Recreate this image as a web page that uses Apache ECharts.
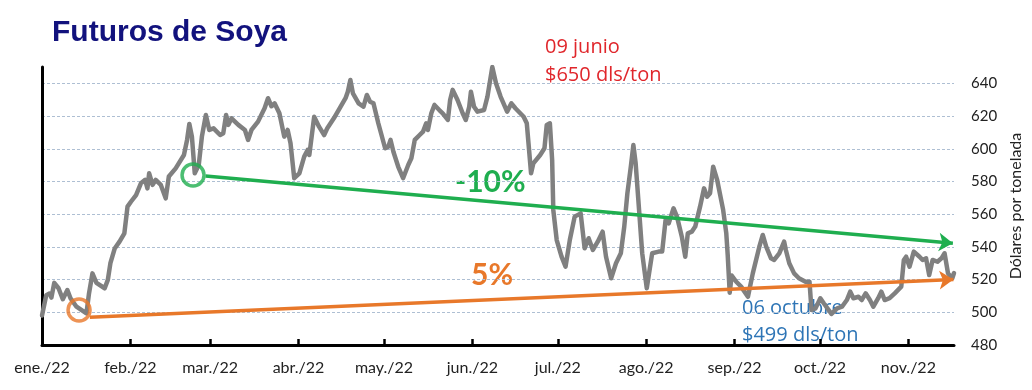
<!DOCTYPE html>
<html>
<head>
<meta charset="utf-8">
<script src="https://cdn.jsdelivr.net/npm/echarts@6/dist/echarts.min.js"></script>
<style>
html,body{margin:0;padding:0;background:#fff;}
#chart{width:1032px;height:390px;}
</style>
</head>
<body>
<div id="chart"></div>
<script>
// X axis: day of year 2022 (0 = 1 ene.)
var monthStarts = [0, 31, 59, 90, 120, 151, 181, 212, 243, 273, 304];
var monthLabels = ['ene./22','feb./22','mar./22','abr./22','may./22','jun./22','jul./22','ago./22','sep./22','oct./22','nov./22'];
var yTicks = [480, 500, 520, 540, 560, 580, 600, 620, 640];

// Soybean futures (USD/ton)
var days = [0,1.5,2.6,3.3,4.3,5.8,7.3,8.9,10,12.1,15.6,16.5,17.7,19.1,22,23.1,24,25.5,27.2,28.9,30,31.2,33,34.7,36.2,37,37.6,38.8,39.9,41.7,43.4,44.5,46.9,49.8,50.9,51.7,52.6,53.6,55,56.1,57.5,58.7,60.2,62.5,63.6,64.6,65.4,66.5,68.9,71.2,72.3,73.5,75.8,78.1,79.3,80.5,81.6,83.3,85,86.2,87.2,88.5,90.3,92,93.2,93.8,95.5,97.2,99,100.1,102.4,106.5,107.3,108.2,109.1,111.1,112.8,114,115.1,116.3,118,120.4,121.5,122.3,123.3,125,126.7,128.5,129.6,130.8,132.5,133.7,134.8,135.4,136.6,137.7,139.4,140.6,142.4,143.2,144.1,145.8,147.6,148.7,149.9,150.5,151.6,152.8,155.1,156.3,158,159.3,160.9,163.2,164.7,166.1,169,170.1,170.7,171.6,172.4,174.8,176.3,177.1,178.2,179,179.4,180.6,182.3,183.7,185.2,186.9,189,190.4,191.8,193.3,195,196.7,197.9,199.7,201.4,203.1,204.3,205.4,206.6,207.5,208.3,209.5,210.6,212.2,213,214.1,216.4,217.6,218.8,219.9,221.6,222.8,224.5,225.7,226.6,228,229.2,230.9,232.3,233.4,234.4,235.5,236.9,239,240.1,240.6,241.3,242,243.6,245.3,247.7,249.4,251.7,252.9,254.1,255.8,256.9,258.7,260.4,261,262.2,263.9,265.6,267.9,269.3,270,271.4,273.1,274.3,277,279,280.7,282.4,283.6,284.7,286.5,287.6,289,290.5,291.7,293.4,294.5,295.7,297.4,299.2,301.5,302.4,303.2,304.4,305.9,307.9,309,310.2,311.3,312.5,314.2,315.6,316.7,317.9,319.4,320];
var prices = [498,510.5,511.5,509,518,514.7,508,513.6,508.6,503.4,499.4,511.6,523.8,518,514.7,519.8,530,539,543.2,548.3,564.6,567.6,571.7,578.9,581,575.8,585,577.9,581,577.9,569.7,583,588,596.2,605.4,615.2,607.4,585,590,607.4,620.7,611.5,612.5,608.4,609.5,620.7,614.6,618.6,614.6,611.5,605.4,611.5,616.6,624.8,630.9,626,627.8,621.7,607.4,611.5,603.4,582,585,595.2,599.3,596.2,619.6,613.5,608.4,612.5,618.6,630.9,634.9,642.1,633.9,627.8,625.7,632.9,628.8,627.8,615.6,600.3,601.3,605.4,598.2,589,582,590.1,594.2,605.4,608.4,610.5,615.6,611.5,621.7,626.8,623.7,621.7,617.6,629.8,636,629.8,621.7,617.6,625.7,634.9,625.7,622.7,623.7,631.9,650,640,631.9,622.7,627.8,624.8,619.6,615.6,603.4,585,591.1,596.2,600.3,614.6,615.6,593.1,562.6,544.2,534,527.9,544.2,558.5,560.5,539.1,545.3,538.1,543.2,549.3,534,520.8,530,536.1,552.4,572.8,589,602.3,591.1,562.6,536.1,514.7,523.8,536.1,537.1,537.1,556.4,554.4,563.6,558.5,546.2,534,548.3,549.3,552.4,564.6,575.8,570.7,572.8,589,580.9,562.6,548.3,535,512,522.5,518.7,515.7,509.5,523.8,540.1,547.3,540.1,533,532,536.1,543.2,538.1,530,523.8,520.8,518.7,518.7,501.4,502.4,508.6,505.5,499,502.4,503.4,507.5,512.6,508.6,509.5,507.5,511.6,507.5,503.4,508.6,512.6,507.5,508.6,511.6,515.7,532,534,527.9,537.1,534,532,533,522.8,532,530.9,533,536.1,523.8,520.8,524];

// Trend lines and highlighted points [day, price]
var greenTrend = [[57.4, 583.3], [319.6, 542.2]];
var orangeTrend = [[16.8, 497.0], [319.8, 520.0]];
var greenCircle = [53, 584];
var orangeCircle = [13, 501.4];

var GRAY = '#808080', GREEN = '#1fae4f', ORANGE = '#e8782a', RED = '#e0262b', BLUE = '#2e75b6';
var FONT = 'Lato, "Open Sans", sans-serif';
var NOTE = '"Open Sans", Lato, sans-serif';

var chart = echarts.init(document.getElementById('chart'), null, {renderer: 'canvas'});
chart.setOption({
  animation: false,
  backgroundColor: '#fff',
  grid: {left: 42, right: 69, top: 67, bottom: 45},
  xAxis: {
    type: 'value', min: 0, max: 320,
    splitLine: {show: false},
    axisLine: {show: true, onZero: false, lineStyle: {color: '#000', width: 3}},
    axisTick: {show: true, inside: true, length: 6, customValues: monthStarts, lineStyle: {color: '#000', width: 2.5}},
    axisLabel: {
      customValues: monthStarts, margin: 15,
      fontFamily: FONT, fontSize: 16, color: '#222',
      formatter: function (v) { var i = monthStarts.indexOf(v); return i >= 0 ? monthLabels[i] : ''; }
    }
  },
  yAxis: {
    type: 'value', position: 'right', min: 480, max: 650, interval: 20,
    name: 'Dólares por tonelada', nameLocation: 'middle', nameRotate: 90, nameGap: 46,
    nameTextStyle: {fontFamily: FONT, fontSize: 16, color: '#222'},
    axisLine: {show: true, lineStyle: {color: '#000', width: 3}},
    axisTick: {show: false},
    splitLine: {show: true, showMaxLine: false, lineStyle: {color: '#aebfd3', type: [3, 2], width: 1}},
    axisLabel: {
      margin: 17, fontFamily: FONT, fontSize: 15, color: '#222', showMaxLabel: false,
      formatter: function (v) { return yTicks.indexOf(v) >= 0 ? String(v) : ''; }
    }
  },
  series: [
    {
      name: 'Soya', type: 'line', symbol: 'none', smooth: false, z: 2,
      lineStyle: {color: GRAY, width: 4.5, join: 'round', cap: 'round'},
      data: days.map(function (d, i) { return [d, prices[i]]; })
    },
    {
      name: 'trendGreen', type: 'line', data: [], z: 3,
      markLine: {
        silent: true, symbol: ['none', 'arrow'], symbolSize: [14, 14],
        label: {show: false},
        lineStyle: {color: GREEN, width: 3.5, type: 'solid'},
        data: [[{coord: greenTrend[0]}, {coord: greenTrend[1]}]]
      }
    },
    {
      name: 'trendOrange', type: 'line', data: [], z: 3,
      markLine: {
        silent: true, symbol: ['none', 'arrow'], symbolSize: [14, 14],
        label: {show: false},
        lineStyle: {color: ORANGE, width: 3.5, type: 'solid'},
        data: [[{coord: orangeTrend[0]}, {coord: orangeTrend[1]}]]
      }
    },
    {
      name: 'circles', type: 'scatter', symbol: 'circle', symbolSize: 22, z: 4, silent: true,
      data: [
        {value: greenCircle, itemStyle: {color: 'rgba(0,0,0,0)', borderColor: GREEN, borderWidth: 3.5}},
        {value: orangeCircle, itemStyle: {color: 'rgba(0,0,0,0)', borderColor: ORANGE, borderWidth: 3.5}}
      ]
    }
  ],
  graphic: [
    {type: 'text', left: 52, top: 18, style: {text: 'Futuros de Soya', fontFamily: '"Liberation Sans", Arial, sans-serif', fontWeight: 'bold', fontSize: 30, fill: '#12127d'}},
    {type: 'text', x: 545, y: 47, style: {text: '09 junio', fontFamily: NOTE, fontSize: 20, fill: RED, verticalAlign: 'middle'}},
    {type: 'text', x: 545, y: 75, style: {text: '$650 dls/ton', fontFamily: NOTE, fontSize: 20, fill: RED, verticalAlign: 'middle'}},
    {type: 'text', x: 455, y: 182, style: {text: '-10%', fontFamily: FONT, fontWeight: 'bold', fontSize: 30, fill: GREEN, verticalAlign: 'middle'}},
    {type: 'text', x: 471, y: 275, style: {text: '5%', fontFamily: FONT, fontWeight: 'bold', fontSize: 30, fill: ORANGE, verticalAlign: 'middle'}},
    {type: 'text', x: 742, y: 308, style: {text: '06 octubre', fontFamily: NOTE, fontSize: 20, fill: BLUE, verticalAlign: 'middle'}},
    {type: 'text', x: 742, y: 335, style: {text: '$499 dls/ton', fontFamily: NOTE, fontSize: 20, fill: BLUE, verticalAlign: 'middle'}}
  ]
});
</script>
</body>
</html>
